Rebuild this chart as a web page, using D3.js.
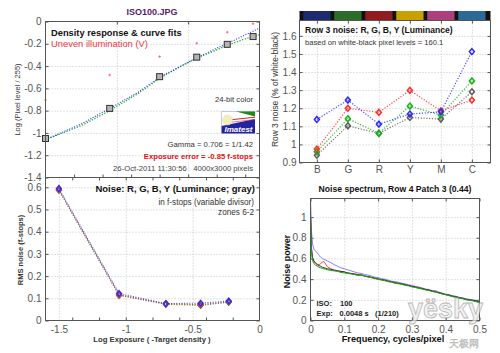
<!DOCTYPE html>
<html><head><meta charset="utf-8">
<script src="https://cdn.jsdelivr.net/npm/d3@7"></script>
<style>
body{margin:0;background:#fff}
svg{display:block}
text{font-family:"Liberation Sans",Arial,sans-serif}
</style>
</head><body>
<svg id="c" width="500" height="353"></svg>
<script>
// ---------- DATA ----------
// Panel 1: density response
const densityX = [-1.5, -1.05, -0.70, -0.44, -0.226, -0.045];
const densityY = [-1.05, -0.78, -0.495, -0.32, -0.205, -0.135];
const unevenY  = [-0.705, -0.48, -0.315, -0.195, -0.096, -0.02];
const fitX     = [-1.5, -1.25, -1.05, -0.85, -0.70, -0.55, -0.44, -0.30, -0.226, -0.10, 0];
const fitBlue  = [-1.06, -0.92, -0.78, -0.635, -0.50, -0.40, -0.325, -0.24, -0.198, -0.12, -0.06];
const fitGreen = [-1.06, -0.935, -0.80, -0.645, -0.51, -0.40, -0.33, -0.255, -0.213, -0.155, -0.12];
const p1YTicks = [0, -0.2, -0.4, -0.6, -0.8, -1, -1.2, -1.4];
const p1XGrid  = [-1, -0.5];
const p1XTicks = [-1.3, -1.1, -0.9, -0.7, -0.5, -0.3, -0.1];

// Panel 2: row 3 noise
const patchCats   = ["B", "G", "R", "Y", "M", "C"];
const patchColors = ["#1d2a6e", "#2e6b2b", "#901b20", "#c9a000", "#ad3f7a", "#2b6a98"];
const row3Gray  = [0.94, 1.103, 1.061, 1.149, 1.14, 1.291];
const row3Green = [0.959, 1.142, 1.062, 1.212, 1.162, 1.351];
const row3Red   = [0.974, 1.20, 1.177, 1.299, 1.186, 1.245];
const row3Blue  = [1.138, 1.245, 1.112, 1.168, 1.18, 1.513];
const p2YTicks  = [0.9, 1, 1.1, 1.2, 1.3, 1.4, 1.5, 1.6];

// Panel 3: RMS noise
const zoneX    = [-1.5, -1.05, -0.70, -0.44, -0.23];
const rmsGray  = [0.587, 0.113, 0.073, 0.068, 0.082];
const rmsGreen = [0.588, 0.115, 0.075, 0.070, 0.084];
const rmsRed   = [0.590, 0.116, 0.075, 0.072, 0.085];
const rmsBlue  = [0.595, 0.122, 0.076, 0.078, 0.088];
const p3XLabels = [-1.5, -1, -0.5, 0];
const p3XTicks  = [-1.4, -1.2, -1, -0.8, -0.6, -0.4, -0.2];
const p3YTicks  = [0, 0.1, 0.2, 0.3, 0.4, 0.5, 0.6];

// Panel 4: noise spectrum
const freq = [0, 0.003, 0.006, 0.01, 0.015, 0.02, 0.025, 0.03, 0.035, 0.04, 0.045, 0.05,
  0.06, 0.07, 0.08, 0.09, 0.10, 0.11, 0.12, 0.13, 0.14, 0.15, 0.16, 0.17, 0.18, 0.19, 0.20,
  0.21, 0.22, 0.23, 0.24, 0.25, 0.26, 0.27, 0.28, 0.29, 0.30, 0.31, 0.32, 0.33, 0.34, 0.35,
  0.36, 0.37, 0.38, 0.39, 0.40, 0.41, 0.42, 0.43, 0.44, 0.45, 0.46, 0.47, 0.48, 0.49, 0.50];
const nsBlack = [1.02, 0.70, 0.61, 0.575, 0.555, 0.54, 0.53, 0.525, 0.515, 0.51, 0.505, 0.50,
  0.495, 0.485, 0.48, 0.475, 0.47, 0.46, 0.455, 0.45, 0.44, 0.44, 0.43, 0.425, 0.415, 0.41, 0.40,
  0.395, 0.39, 0.38, 0.375, 0.365, 0.36, 0.355, 0.345, 0.34, 0.33, 0.325, 0.315, 0.31, 0.30, 0.295,
  0.285, 0.275, 0.27, 0.26, 0.25, 0.245, 0.235, 0.23, 0.22, 0.215, 0.205, 0.20, 0.195, 0.19, 0.18];
const nsRed = [1.0, 0.68, 0.60, 0.57, 0.555, 0.545, 0.54, 0.55, 0.565, 0.57, 0.545, 0.52,
  0.50, 0.49, 0.48, 0.475, 0.47, 0.46, 0.455, 0.45, 0.445, 0.44, 0.43, 0.425, 0.42, 0.41, 0.405,
  0.395, 0.39, 0.38, 0.375, 0.365, 0.36, 0.355, 0.345, 0.34, 0.33, 0.325, 0.315, 0.31, 0.30, 0.295,
  0.285, 0.28, 0.27, 0.26, 0.25, 0.245, 0.235, 0.23, 0.22, 0.215, 0.205, 0.20, 0.195, 0.19, 0.18];
const nsBlue = [1.18, 0.86, 0.74, 0.69, 0.67, 0.655, 0.63, 0.615, 0.60, 0.59, 0.585, 0.575,
  0.56, 0.54, 0.525, 0.51, 0.50, 0.49, 0.48, 0.47, 0.46, 0.455, 0.445, 0.44, 0.43, 0.42, 0.415,
  0.405, 0.40, 0.39, 0.38, 0.375, 0.37, 0.36, 0.355, 0.345, 0.34, 0.33, 0.325, 0.315, 0.305, 0.30,
  0.29, 0.29, 0.275, 0.265, 0.255, 0.25, 0.24, 0.235, 0.225, 0.22, 0.21, 0.205, 0.20, 0.195, 0.185];
const nsGreen = [1.02, 0.66, 0.58, 0.55, 0.535, 0.525, 0.515, 0.51, 0.505, 0.50, 0.495, 0.49,
  0.485, 0.48, 0.475, 0.465, 0.46, 0.455, 0.45, 0.445, 0.435, 0.445, 0.43, 0.42, 0.415, 0.405, 0.40,
  0.39, 0.385, 0.375, 0.37, 0.36, 0.355, 0.35, 0.34, 0.335, 0.325, 0.32, 0.31, 0.305, 0.295, 0.29,
  0.28, 0.275, 0.265, 0.255, 0.25, 0.24, 0.23, 0.225, 0.215, 0.21, 0.20, 0.195, 0.19, 0.18, 0.175];
const p4XTicks = [0, 0.1, 0.2, 0.3, 0.4, 0.5];
const p4YTicks = [0, 0.2, 0.4, 0.6, 0.8, 1];

// ---------- DRAWING ----------
const svg = d3.select("#c");
const C = {blue:"#2a2aff", red:"#ff2a2a", green:"#12b012", gray:"#5a5a5a"};
const fmt = d => String(+(+d).toFixed(2));

const P1 = {x0:45.5, x1:259.5, y0:21.5, y1:177.5};
const P2 = {x0:299.5, x1:490.5, y0:20.5, y1:162.5};
const P3 = {x0:45.5, x1:259.5, y0:177.5, y1:320.5};
const P4 = {x0:310.5, x1:479.5, y0:198.5, y1:320.5};

const x1 = d3.scaleLinear().domain([-1.5, 0]).range([P1.x0, P1.x1]);
const y1 = d3.scaleLinear().domain([-1.4, 0]).range([P1.y1, P1.y0]);
const x2 = d3.scaleLinear().domain([0.44, 6.6]).range([P2.x0, P2.x1]);
const y2 = d3.scaleLinear().domain([0.9, 1.685]).range([P2.y1, P2.y0]);
const x3 = d3.scaleLinear().domain([-1.6, 0]).range([P3.x0, P3.x1]);
const y3 = d3.scaleLinear().domain([0, 0.644]).range([P3.y1, P3.y0]);
const x4 = d3.scaleLinear().domain([0, 0.5]).range([P4.x0, P4.x1]);
const y4 = d3.scaleLinear().domain([0, 1.18]).range([P4.y1, P4.y0]);

function gridX(p, x, vals){
  svg.append("g").attr("transform",`translate(0,${p.y1})`)
    .call(d3.axisBottom(x).tickValues(vals).tickSize(-(p.y1-p.y0)).tickFormat(""))
    .call(g=>{g.select(".domain").remove(); g.selectAll("line").attr("stroke","#c4c4c4").attr("stroke-dasharray","1,2");});
}
function gridY(p, y, vals){
  svg.append("g").attr("transform",`translate(${p.x0},0)`)
    .call(d3.axisLeft(y).tickValues(vals).tickSize(-(p.x1-p.x0)).tickFormat(""))
    .call(g=>{g.select(".domain").remove(); g.selectAll("line").attr("stroke","#c4c4c4").attr("stroke-dasharray","1,2");});
}
function styleAxis(g){
  g.select(".domain").remove();
  g.selectAll("line").attr("stroke","#555");
  g.selectAll("text").attr("fill","#555").attr("font-size",10).attr("font-family",'"Liberation Sans",Arial,sans-serif');
}
function ticksLeft(p, y, vals, pad, labels){
  svg.append("g").attr("transform",`translate(${p.x0},0)`)
    .call(d3.axisLeft(y).tickValues(vals).tickSize(-3).tickPadding(pad).tickFormat(labels ? labels : fmt))
    .call(styleAxis);
  svg.append("g").attr("transform",`translate(${p.x1},0)`)
    .call(d3.axisRight(y).tickValues(vals).tickSize(-3).tickFormat(""))
    .call(styleAxis);
}
function ticksBottom(p, x, vals, pad, labels){
  svg.append("g").attr("transform",`translate(0,${p.y1})`)
    .call(d3.axisBottom(x).tickValues(vals).tickSize(-3).tickPadding(pad).tickFormat(labels ? labels : fmt))
    .call(styleAxis);
  svg.append("g").attr("transform",`translate(0,${p.y0})`)
    .call(d3.axisTop(x).tickValues(vals).tickSize(-3).tickFormat(""))
    .call(styleAxis);
}
function frame(p){
  svg.append("rect").attr("x",p.x0).attr("y",p.y0).attr("width",p.x1-p.x0).attr("height",p.y1-p.y0)
    .attr("fill","none").attr("stroke","#555").attr("stroke-width",1);
}
function txt(x, y, s, o){
  o = o || {};
  const t = svg.append("text").attr("x",x).attr("y",y).text(s)
    .attr("font-size",o.size||8).attr("fill",o.fill||"#333")
    .attr("font-weight",o.bold?"bold":"normal")
    .attr("text-anchor",o.anchor||"start")
    .style("white-space","pre");
  if(o.rotate) t.attr("transform",`rotate(-90,${x},${y})`);
  if(o.font) t.attr("font-family",o.font);
  return t;
}
const diamond = {draw(ctx, size){ const h=Math.sqrt(size)*0.6, w=h*0.85; ctx.moveTo(0,-h); ctx.lineTo(w,0); ctx.lineTo(0,h); ctx.lineTo(-w,0); ctx.closePath(); }};

// Title
txt(152, 15, "ISO100.JPG", {size:9, bold:true, fill:"#5a1b6b", anchor:"middle"});

// ===== Panel 1 =====
gridY(P1, y1, p1YTicks.slice(1,-1));
gridX(P1, x1, p1XGrid);
ticksLeft(P1, y1, p1YTicks, 4);
svg.append("g").attr("transform",`translate(0,${P1.y1})`)
  .call(d3.axisBottom(x1).tickValues(p1XTicks).tickSize(-3).tickFormat("")).call(styleAxis);
svg.append("g").attr("transform",`translate(0,${P1.y0})`)
  .call(d3.axisTop(x1).tickValues(p1XGrid).tickSize(-3).tickFormat("")).call(styleAxis);

const line1 = d3.line().x((d,i)=>x1(fitX[i])).y(d=>y1(d));
svg.append("path").datum(fitGreen).attr("d",line1).attr("fill","none").attr("stroke",C.green).attr("stroke-width",1.3).attr("stroke-dasharray","1.2,1.6");
svg.append("path").datum(fitBlue).attr("d",line1).attr("fill","none").attr("stroke",C.blue).attr("stroke-width",1.1).attr("stroke-dasharray","1,1.6");
svg.append("g").selectAll("rect").data(densityY).join("rect")
  .attr("x",(d,i)=>x1(densityX[i])-3).attr("y",d=>y1(d)-3).attr("width",6).attr("height",6)
  .attr("fill","#b4b4b4").attr("stroke","#333").attr("stroke-width",1);
svg.append("g").selectAll("path").data(unevenY).join("path")
  .attr("d",(d,i)=>{const x=x1(densityX[i]), y=y1(d); return `M${x-1.3},${y}H${x+1.3}M${x},${y-1.3}V${y+1.3}`;})
  .attr("stroke","#f06a6a").attr("stroke-width",0.9);
frame(P1);

txt(51, 35.5, "Density response & curve fits", {size:9.3, bold:true, fill:"#111"});
txt(51, 47, "Uneven illumination (V)", {size:9.4, fill:"#e8383c"});
txt(253, 101.5, "24-bit color", {size:7.7, anchor:"end"});
// Imatest logo
const lg = svg.append("g");
lg.append("rect").attr("x",221.5).attr("y",111.5).attr("width",33.5).attr("height",22).attr("fill","#2323a3");
lg.append("path").attr("d","M221.5,111.5H255V119L221.5,126Z").attr("fill","#fff");
lg.append("path").attr("d","M236,111.5H255V116.5Z").attr("fill","#1e8a1e");
lg.append("path").attr("d","M224,120.5L255,117.2").attr("stroke","#d22").attr("stroke-width",1);
lg.append("path").attr("d","M224,123L255,119.5").attr("stroke","#c33").attr("stroke-width",0.6);
lg.append("circle").attr("cx",227.5).attr("cy",120).attr("r",5).attr("fill","#f4f0b4").attr("stroke","#ddd").attr("stroke-width",0.5);
txt(238.5, 131.5, "Imatest", {size:8, bold:true, fill:"#fff", anchor:"middle"}).attr("font-style","italic");
txt(253, 147, "Gamma = 0.706 = 1/1.42", {size:7.7, anchor:"end"});
txt(253, 158.5, "Exposure error = -0.85 f-stops", {size:7.7, bold:true, fill:"#e01010", anchor:"end"});
txt(253, 170.5, "26-Oct-2011 11:30:56   4000x3000 pixels", {size:7.7, fill:"#444", anchor:"end"});
txt(19.5, 99.5, "Log (Pixel level / 255)", {size:7.5, fill:"#333", anchor:"middle", rotate:true});

// ===== Panel 2 =====
const barW = (x2(1.5)-x2(0.5));
svg.append("rect").attr("x",P2.x0).attr("y",11).attr("width",P2.x1-P2.x0).attr("height",9.5).attr("fill","#111");
svg.append("g").selectAll("rect").data(patchCats).join("rect")
  .attr("x",(d,i)=>x2(i+1)-barW*0.44).attr("y",11).attr("width",barW*0.88).attr("height",9.5)
  .attr("fill",(d,i)=>patchColors[i]);
gridY(P2, y2, p2YTicks.slice(1));
gridX(P2, x2, d3.range(1,7));
ticksLeft(P2, y2, p2YTicks, 3);
svg.append("g").attr("transform",`translate(0,${P2.y1})`)
  .call(d3.axisBottom(x2).tickValues(d3.range(1,7)).tickSize(-3).tickPadding(3.5).tickFormat((d,i)=>patchCats[i]))
  .call(styleAxis);
svg.append("g").attr("transform",`translate(0,${P2.y0})`)
  .call(d3.axisTop(x2).tickValues(d3.range(1,7)).tickSize(-3).tickFormat("")).call(styleAxis);
const line2 = d3.line().x((d,i)=>x2(i+1)).y(d=>y2(d));
[[row3Gray,C.gray],[row3Green,C.green],[row3Red,C.red],[row3Blue,C.blue]].forEach(([vals,col])=>{
  svg.append("path").datum(vals).attr("d",line2).attr("fill","none").attr("stroke",col).attr("stroke-width",1.2).attr("stroke-dasharray","1.2,1.6").attr("opacity",0.85);
  svg.append("g").selectAll("path").data(vals).join("path")
    .attr("transform",(d,i)=>`translate(${x2(i+1)},${y2(d)})`)
    .attr("d",d3.symbol(diamond,24)).attr("fill","none").attr("stroke",col).attr("stroke-width",1.5);
});
frame(P2);
txt(305, 32.5, "Row 3 noise: R, G, B, Y (Luminance)", {size:8.6, bold:true, fill:"#111"});
txt(305, 44.5, "based on white-black pixel levels = 160.1", {size:7.6});
txt(277.5, 89.5, "Row 3 noise (% of white-black)", {size:8.4, fill:"#333", anchor:"middle", rotate:true});

// ===== Panel 3 =====
gridY(P3, y3, p3YTicks.slice(1));
gridX(P3, x3, p3XLabels.slice(0,3));
ticksLeft(P3, y3, p3YTicks, 4);
svg.append("g").attr("transform",`translate(0,${P3.y1})`)
  .call(d3.axisBottom(x3).tickValues(p3XLabels).tickSize(0).tickPadding(5).tickFormat(fmt)).call(styleAxis);
svg.append("g").attr("transform",`translate(0,${P3.y1})`)
  .call(d3.axisBottom(x3).tickValues(p3XTicks).tickSize(-3).tickFormat("")).call(styleAxis);
svg.append("g").attr("transform",`translate(0,${P3.y0})`)
  .call(d3.axisTop(x3).tickValues(p3XTicks).tickSize(-3).tickFormat("")).call(styleAxis);
const line3 = d3.line().x((d,i)=>x3(zoneX[i])).y(d=>y3(d));
[[rmsGray,C.gray],[rmsGreen,C.green],[rmsRed,C.red],[rmsBlue,C.blue]].forEach(([vals,col])=>{
  svg.append("path").datum(vals).attr("d",line3).attr("fill","none").attr("stroke",col).attr("stroke-width",1.1).attr("stroke-dasharray","1,1.6").attr("opacity",0.8);
  svg.append("g").selectAll("path").data(vals).join("path")
    .attr("transform",(d,i)=>`translate(${x3(zoneX[i])},${y3(d)})`)
    .attr("d",d3.symbol(diamond,22)).attr("fill","none").attr("stroke",col).attr("stroke-width",1.4);
});
frame(P3);
txt(255, 192, "Noise: R, G, B, Y (Luminance; gray)", {size:9.5, bold:true, fill:"#111", anchor:"end"});
txt(254, 204.5, "in f-stops (variable divisor)", {size:8.2, anchor:"end"});
txt(254, 215, "zones 6-2", {size:8.2, anchor:"end"});
txt(22.5, 250, "RMS noise (f-stops)", {size:7.5, bold:true, fill:"#333", anchor:"middle", rotate:true});
txt(152, 342, "Log Exposure ( -Target density )", {size:7.7, bold:true, fill:"#333", anchor:"middle"});

// ===== Panel 4 =====
gridY(P4, y4, p4YTicks.slice(1));
gridX(P4, x4, p4XTicks.slice(1,-1));
ticksLeft(P4, y4, p4YTicks, 4);
ticksBottom(P4, x4, p4XTicks, 5);
const line4 = d3.line().x((d,i)=>x4(freq[i])).y(d=>y4(d));
[[nsBlue,"#8080ff"],[nsRed,"#ff4040"],[nsBlack,"#333"],[nsGreen,"#10a810"]].forEach(([vals,col])=>{
  svg.append("path").datum(vals).attr("d",line4).attr("fill","none").attr("stroke",col).attr("stroke-width",1);
});
frame(P4);
txt(395, 191.5, "Noise spectrum, Row 4 Patch 3 (0.44)", {size:8.65, bold:true, fill:"#111", anchor:"middle"});
txt(393, 342, "Frequency, cycles/pixel", {size:9.2, bold:true, fill:"#111", anchor:"middle"});
txt(289.5, 261.5, "Noise power", {size:9, bold:true, fill:"#111", anchor:"middle", rotate:true});
txt(316.5, 305.5, "ISO:", {size:7.5, bold:true, fill:"#222"});
txt(340, 305.5, "100", {size:7.5, bold:true, fill:"#222"});
txt(316.5, 315.5, "Exp:", {size:7.5, bold:true, fill:"#222"});
txt(339.5, 315.5, "0.0048 s", {size:7.5, bold:true, fill:"#222"});
txt(375, 315.5, "(1/210)", {size:7.5, bold:true, fill:"#222"});

// watermark (placed to avoid covering other texts)
txt(408, 318, "yësky", {size:27, bold:true, fill:"#ececec"}).attr("stroke","#9a9a9a").attr("stroke-width",0.8).attr("opacity",0.7);
txt(449, 347, "天极网", {size:10, fill:"#ececec", font:'"Noto Sans CJK SC",sans-serif'}).attr("stroke","#9a9a9a").attr("stroke-width",0.5).attr("opacity",0.7);
</script>
</body></html>
